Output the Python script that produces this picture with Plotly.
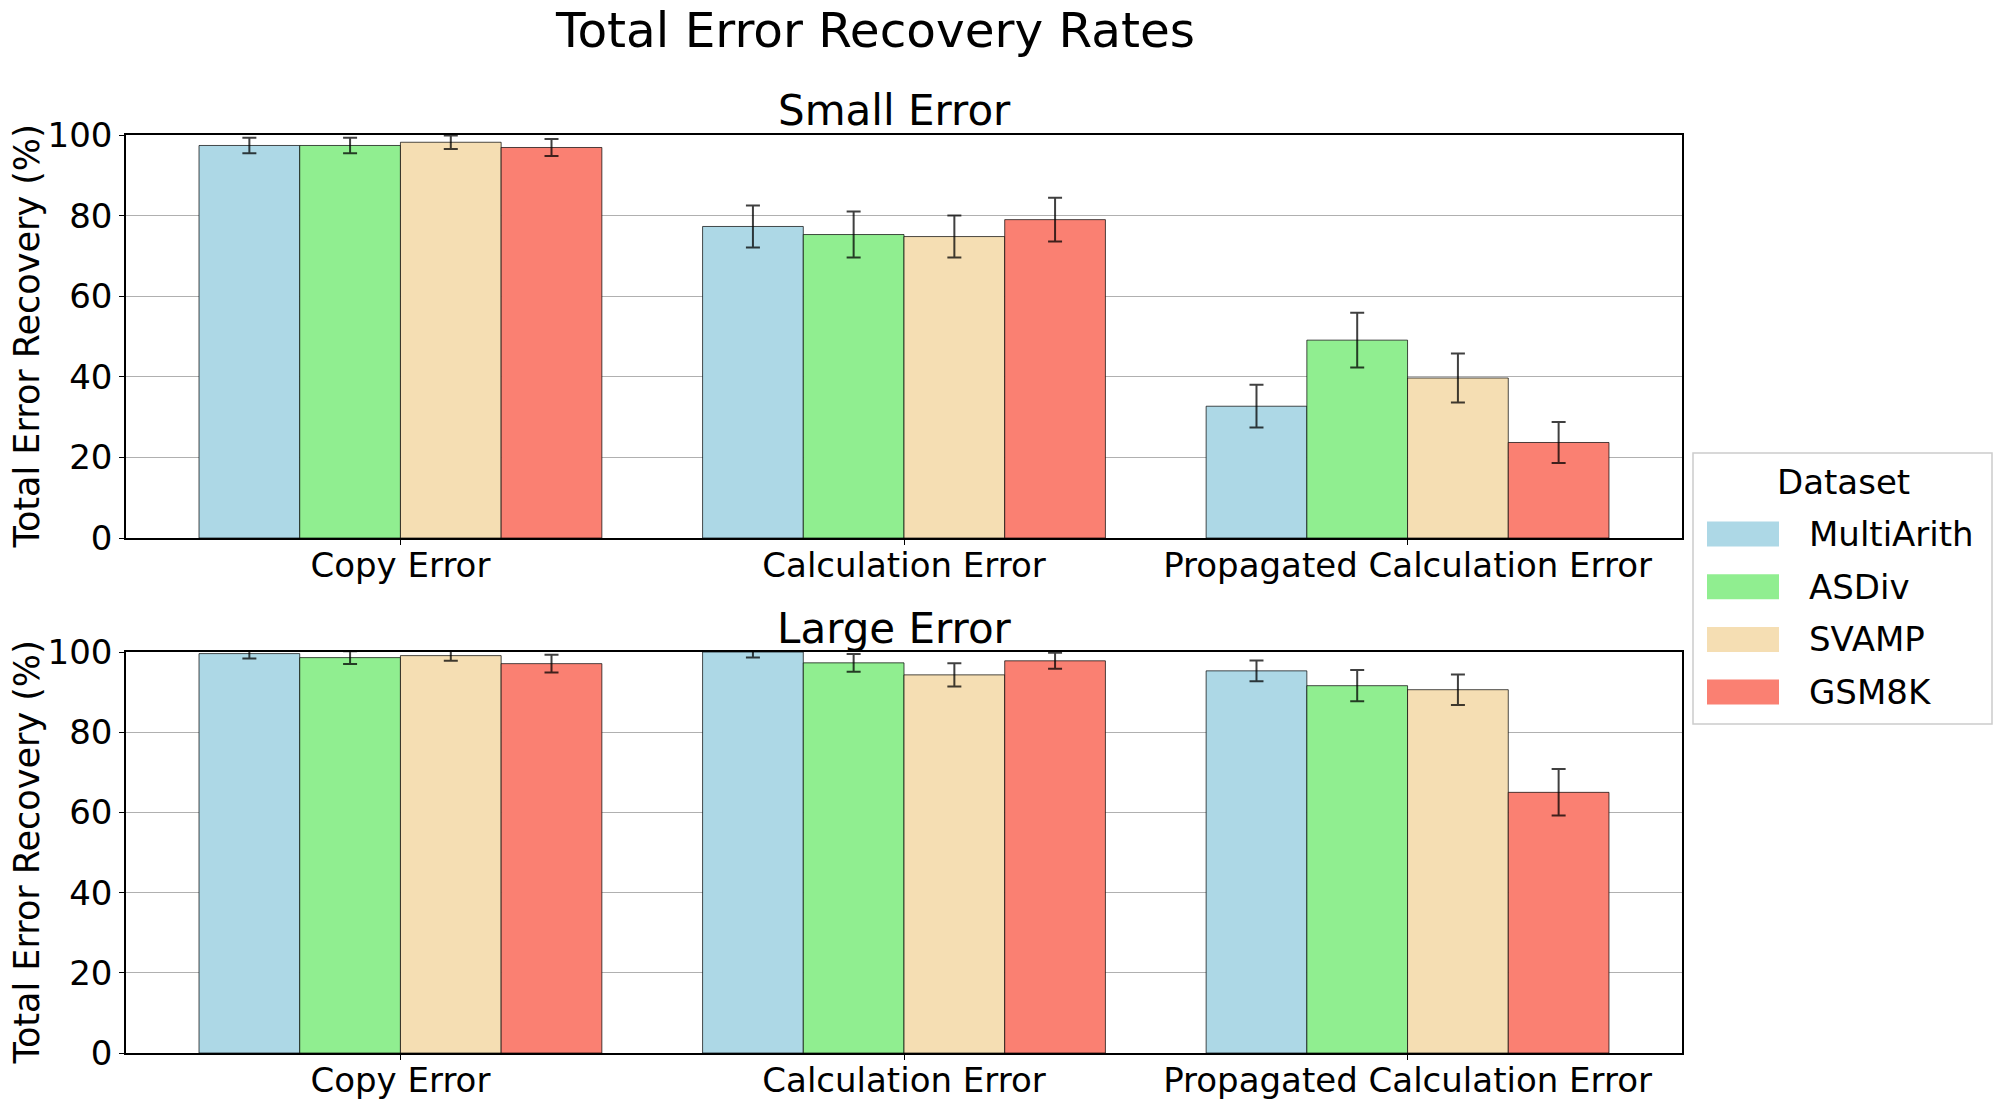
import plotly.graph_objects as go

# ---------------------------------------------------------------------------
# Data
# ---------------------------------------------------------------------------
categories = ["Copy Error", "Calculation Error", "Propagated Calculation Error"]
datasets = ["MultiArith", "ASDiv", "SVAMP", "GSM8K"]
colors = ["#ADD8E6", "#90EE90", "#F5DEB3", "#FA8072"]

small_values = {
    "MultiArith": [97.4, 77.3, 32.7],
    "ASDiv": [97.4, 75.3, 49.1],
    "SVAMP": [98.2, 74.8, 39.7],
    "GSM8K": [96.9, 79.0, 23.7],
}
small_errors = {
    "MultiArith": [1.9, 5.2, 5.3],
    "ASDiv": [1.9, 5.7, 6.8],
    "SVAMP": [1.7, 5.2, 6.1],
    "GSM8K": [2.1, 5.4, 5.1],
}
large_values = {
    "MultiArith": [99.6, 100.0, 95.3],
    "ASDiv": [98.6, 97.3, 91.6],
    "SVAMP": [99.1, 94.3, 90.6],
    "GSM8K": [97.1, 97.8, 65.0],
}
large_errors = {
    "MultiArith": [1.2, 1.4, 2.6],
    "ASDiv": [1.6, 2.2, 3.9],
    "SVAMP": [1.3, 2.9, 3.8],
    "GSM8K": [2.2, 2.0, 5.8],
}

W, H = 1996, 1107
FONT = "DejaVu Sans"

# panel extents in page pixels (top, bottom)
PANELS = [(135, 538), (652, 1053)]
X_LEFT, X_RIGHT = 126, 1682


def px_x(v):
    return v / W


def px_y(v):
    return 1 - v / H


fig = go.Figure()

# bars for both panels
for panel, (vals, errs) in enumerate([(small_values, small_errors),
                                      (large_values, large_errors)]):
    xa = "x" if panel == 0 else "x2"
    ya = "y" if panel == 0 else "y2"
    for name, color in zip(datasets, colors):
        fig.add_trace(go.Bar(
            x=categories, y=vals[name],
            name=name, marker=dict(color=color, line=dict(color="black", width=0.7)),
            error_y=dict(type="data", array=errs[name], color="rgba(0,0,0,0.75)",
                         thickness=2, width=7),
            xaxis=xa, yaxis=ya, showlegend=False,
        ))

axis_common = dict(
    showline=True, linecolor="black", linewidth=1.5, mirror=True,
    ticks="outside", ticklen=5, tickcolor="black",
    tickfont=dict(family=FONT, size=34, color="black"),
    zeroline=False, automargin=False,
)

# ---------------------------------------------------------------------------
# Legend box drawn by hand (matplotlib-style patches)
# ---------------------------------------------------------------------------
shapes = [dict(type="rect", xref="paper", yref="paper",
               x0=px_x(1693), x1=px_x(1992), y0=px_y(724), y1=px_y(453),
               line=dict(color="#cccccc", width=1.5), fillcolor="white")]
annotations = [dict(text="Dataset", x=px_x(1843), y=px_y(482),
                    xref="paper", yref="paper", xanchor="center", yanchor="middle",
                    showarrow=False, font=dict(family=FONT, size=34, color="black"))]
for i, (name, color) in enumerate(zip(datasets, colors)):
    cy = 534 + i * 52.7
    shapes.append(dict(type="rect", xref="paper", yref="paper",
                       x0=px_x(1707), x1=px_x(1779),
                       y0=px_y(cy + 12.5), y1=px_y(cy - 12.5),
                       line=dict(width=0), fillcolor=color))
    annotations.append(dict(text=name, x=px_x(1807), y=px_y(cy),
                            xref="paper", yref="paper", xanchor="left", yanchor="middle",
                            showarrow=False,
                            font=dict(family=FONT, size=34, color="black")))

# y-axis labels (placed by hand since automargin is off)
for top, bottom in PANELS:
    annotations.append(dict(text="Total Error Recovery (%)", textangle=-90,
                            x=px_x(26), y=px_y((top + bottom) / 2),
                            xref="paper", yref="paper",
                            xanchor="center", yanchor="middle", showarrow=False,
                            font=dict(family=FONT, size=35, color="black")))

annotations += [
    dict(text="Total Error Recovery Rates", x=px_x(875), y=px_y(30),
         xref="paper", yref="paper", xanchor="center", yanchor="middle",
         showarrow=False, font=dict(family=FONT, size=48.5, color="black")),
    dict(text="Small Error", x=px_x(894), y=px_y(111),
         xref="paper", yref="paper", xanchor="center", yanchor="middle",
         showarrow=False, font=dict(family=FONT, size=42, color="black")),
    dict(text="Large Error", x=px_x(894), y=px_y(628),
         xref="paper", yref="paper", xanchor="center", yanchor="middle",
         showarrow=False, font=dict(family=FONT, size=42, color="black")),
]

fig.update_layout(
    width=W, height=H,
    margin=dict(l=0, r=0, t=0, b=0),
    plot_bgcolor="white", paper_bgcolor="white",
    barmode="group", bargap=0.2, bargroupgap=0,
    font=dict(family=FONT, size=34, color="black"),
    showlegend=False,
    xaxis=dict(domain=[px_x(X_LEFT), px_x(X_RIGHT)], anchor="y",
               range=[-0.545, 2.545], showgrid=False, ticklabelstandoff=-9,
               **axis_common),
    yaxis=dict(domain=[px_y(PANELS[0][1]), px_y(PANELS[0][0])], anchor="x",
               range=[0, 100], dtick=20, showgrid=True,
               gridcolor="#b0b0b0", gridwidth=1, **axis_common),
    xaxis2=dict(domain=[px_x(X_LEFT), px_x(X_RIGHT)], anchor="y2",
                range=[-0.545, 2.545], showgrid=False, ticklabelstandoff=-9,
                **axis_common),
    yaxis2=dict(domain=[px_y(PANELS[1][1]), px_y(PANELS[1][0])], anchor="x2",
                range=[0, 100], dtick=20, showgrid=True,
                gridcolor="#b0b0b0", gridwidth=1, **axis_common),
    shapes=shapes,
    annotations=annotations,
)

# drop the default 8px body margin so the figure fills the window exactly
fig.write_html("out.html", config={"displayModeBar": False},
               post_script="document.body.style.margin = '0px';")
